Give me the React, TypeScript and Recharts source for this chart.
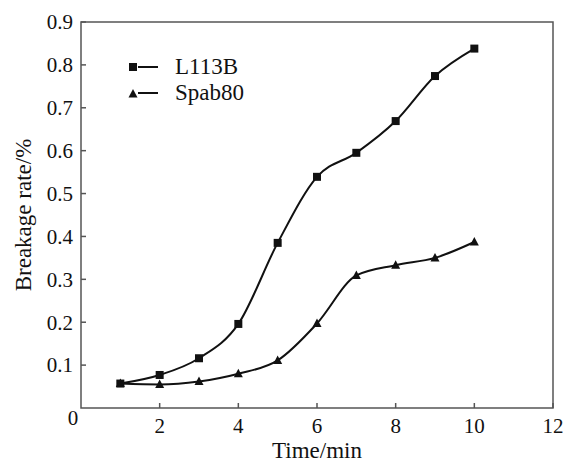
import { LineChart, Line, XAxis, YAxis, ReferenceArea, Legend } from "recharts"

const time = [1, 2, 3, 4, 5, 6, 7, 8, 9, 10]
const l113b = [0.057, 0.077, 0.116, 0.196, 0.385, 0.539, 0.595, 0.669, 0.774, 0.838]
const spab80 = [0.057, 0.055, 0.062, 0.08, 0.111, 0.197, 0.309, 0.333, 0.35, 0.387]
const xTicks = [0, 2, 4, 6, 8, 10, 12]
const yTicks = [0.1, 0.2, 0.3, 0.4, 0.5, 0.6, 0.7, 0.8, 0.9]
const seriesNames = ["L113B", "Spab80"]

const data = time.map((t, i) => ({ t, l113b: l113b[i], spab80: spab80[i] }))

const font = "Liberation Serif, DejaVu Serif, Times New Roman, serif"
const ink = "#111"
const frame = "#555"

function SquareDot({ cx, cy }: any) {
  if (cx == null || cy == null) return null
  return <rect x={cx - 4} y={cy - 4} width={8} height={8} fill={ink} />
}

function TriangleDot({ cx, cy }: any) {
  if (cx == null || cy == null) return null
  return <polygon points={`${cx},${cy - 5} ${cx + 4.5},${cy + 3.5} ${cx - 4.5},${cy + 3.5}`} fill={ink} />
}

function XTick({ x, y, payload }: any) {
  const v = payload.value
  if (v === 0) {
    return (
      <text x={x - 8} y={y + 17} textAnchor="middle" style={{ fontFamily: font }} fontSize={21} fill={ink}>
        0
      </text>
    )
  }
  return (
    <g>
      <line x1={x} y1={y} x2={x} y2={y - 5} stroke={frame} strokeWidth={1.5} />
      <text x={x} y={y + 25} textAnchor="middle" style={{ fontFamily: font }} fontSize={21} fill={ink}>
        {v}
      </text>
    </g>
  )
}

function YTick({ x, y, payload }: any) {
  return (
    <g>
      <line x1={x} y1={y} x2={x + 5} y2={y} stroke={frame} strokeWidth={1.5} />
      <text x={x - 8} y={y} dy="0.35em" textAnchor="end" style={{ fontFamily: font }} fontSize={21} fill={ink}>
        {payload.value.toFixed(1)}
      </text>
    </g>
  )
}

function XTitle({ viewBox }: any) {
  const cx = viewBox.x + viewBox.width / 2
  return (
    <text x={cx} y={viewBox.y + 50} textAnchor="middle" style={{ fontFamily: font }} fontSize={23} fill={ink}>
      Time/min
    </text>
  )
}

function YTitle({ viewBox }: any) {
  const cx = 23
  const cy = viewBox.y + viewBox.height / 2
  return (
    <text
      x={cx}
      y={cy}
      dy="0.35em"
      transform={`rotate(-90 ${cx} ${cy})`}
      textAnchor="middle"
      style={{ fontFamily: font }}
      fontSize={23}
      fill={ink}
    >
      Breakage rate/%
    </text>
  )
}

function LegendBox() {
  return (
    <div style={{ fontFamily: font, fontSize: 23, color: ink }}>
      {seriesNames.map((name, i) => (
        <div key={name} style={{ display: "flex", alignItems: "center", height: 26 }}>
          <svg width={50} height={26}>
            {i === 0 ? <SquareDot cx={8} cy={13} /> : <TriangleDot cx={8} cy={14} />}
            <line x1={13} y1={13} x2={33} y2={13} stroke={ink} strokeWidth={2} />
          </svg>
          <span style={{ lineHeight: "26px" }}>{name}</span>
        </div>
      ))}
    </div>
  )
}

export default function App() {
  return (
    <div style={{ position: "absolute", left: 0, top: 0, width: 569, height: 462, background: "#fff" }}>
      <LineChart width={569} height={462} data={data} margin={{ top: 22, right: 16, bottom: 0, left: 0 }}>
        <XAxis
          dataKey="t"
          type="number"
          domain={[0, 12]}
          ticks={xTicks}
          interval={0}
          tickSize={0}
          tickMargin={0}
          axisLine={false}
          tickLine={false}
          tick={<XTick />}
          height={54}
          label={{ content: <XTitle /> }}
        />
        <YAxis
          type="number"
          domain={[0, 0.9]}
          ticks={yTicks}
          interval={0}
          tickSize={0}
          tickMargin={0}
          axisLine={false}
          tickLine={false}
          tick={<YTick />}
          width={81}
          label={{ content: <YTitle /> }}
        />
        <ReferenceArea x1={0} x2={12} y1={0} y2={0.9} fill="none" stroke={frame} strokeWidth={1.5} />
        <Line
          type="monotone"
          dataKey="l113b"
          name={seriesNames[0]}
          stroke={ink}
          strokeWidth={2}
          dot={<SquareDot />}
          isAnimationActive={false}
        />
        <Line
          type="monotone"
          dataKey="spab80"
          name={seriesNames[1]}
          stroke={ink}
          strokeWidth={2}
          dot={<TriangleDot />}
          isAnimationActive={false}
        />
        <Legend
          layout="vertical"
          align="center"
          verticalAlign="middle"
          wrapperStyle={{ left: 125, top: 54, width: "auto" }}
          content={<LegendBox />}
        />
      </LineChart>
    </div>
  )
}
